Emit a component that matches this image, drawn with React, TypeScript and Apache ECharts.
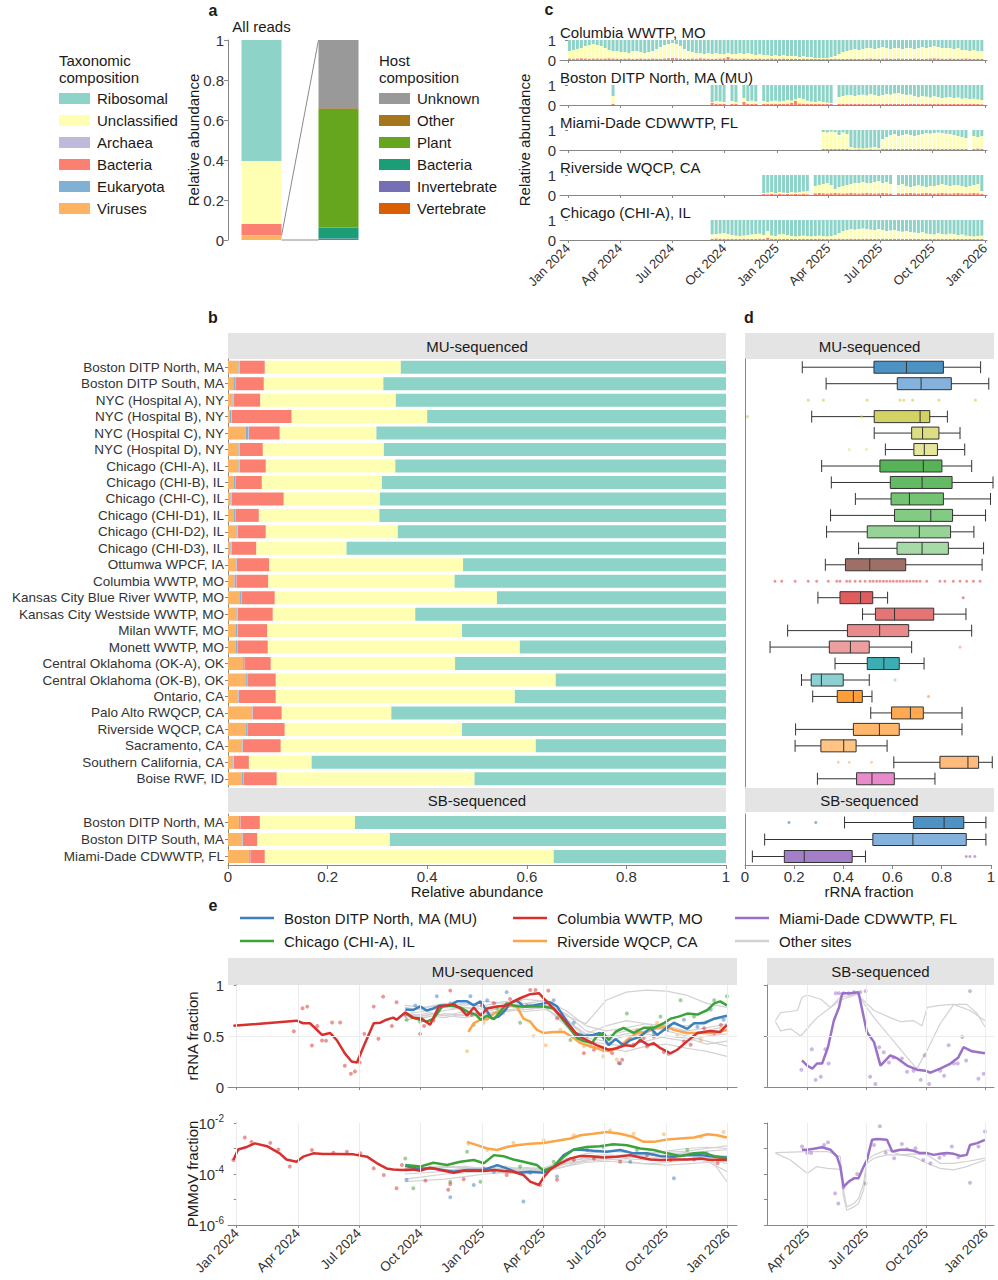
import React, { useEffect, useRef } from 'react';
import * as echarts from 'echarts';

const FONT = '"Liberation Sans", Arial, Helvetica, sans-serif';
const DAY_MS = 86400000;
const T0 = Date.UTC(2024, 0, 1);
const t = (d: number) => T0 + d * DAY_MS;
const MONTHS = ['Jan', 'Feb', 'Mar', 'Apr', 'May', 'Jun', 'Jul', 'Aug', 'Sep', 'Oct', 'Nov', 'Dec'];
// x values on the time panels are days since 1 Jan 2024
const fmtDay = (d: number) => { const dt = new Date(T0 + Math.round(d) * DAY_MS); return MONTHS[dt.getUTCMonth()] + ' ' + dt.getUTCFullYear(); };

// ---------- tick positions (days since 1 Jan 2024) ----------
const quarterDays = [0, 91, 182, 274, 366, 456, 547, 639, 731];
const sbQuarterDays = [456, 547, 639, 731];

// ---------- colours ----------
const TAX_COLORS: Record<string, string> = {
  Ribosomal: '#8DD3C7', Unclassified: '#FFFFB3', Archaea: '#BEBADA', Bacteria: '#FB8072', Eukaryota: '#80B1D3', Viruses: '#FDB462',
};
const HOST_COLORS: Record<string, string> = {
  Unknown: '#999999', Other: '#A6761D', Plant: '#66A61E', Bacteria: '#1B9E77', Invertebrate: '#7570B3', Vertebrate: '#D95F02',
};
const C_BOS = '#3a7fc0', C_COL = '#d7302e', C_CHI = '#3ba33a', C_RIV = '#fba548', C_MIA = '#9b70c8', C_OTHER = '#d2d2d2';

// ---------- panel a ----------
const compCategories = ['All reads', 'Viral reads'];
const taxNames = ['Viruses', 'Eukaryota', 'Archaea', 'Bacteria', 'Unclassified', 'Ribosomal'];
const allReadsTax = [0.021, 0.002, 0.001, 0.056, 0.315, 0.605];
const hostNames = ['Vertebrate', 'Invertebrate', 'Bacteria', 'Plant', 'Other', 'Unknown'];
const viralReadsHost = [0.005, 0.002, 0.056, 0.592, 0.004, 0.341];
const taxLegend = ['Ribosomal', 'Unclassified', 'Archaea', 'Bacteria', 'Eukaryota', 'Viruses'];
const hostLegend = ['Unknown', 'Other', 'Plant', 'Bacteria', 'Invertebrate', 'Vertebrate'];

// ---------- panel b ----------
const sitesMU = ['Boston DITP North, MA', 'Boston DITP South, MA', 'NYC (Hospital A), NY', 'NYC (Hospital B), NY', 'NYC (Hospital C), NY', 'NYC (Hospital D), NY', 'Chicago (CHI-A), IL', 'Chicago (CHI-B), IL', 'Chicago (CHI-C), IL', 'Chicago (CHI-D1), IL', 'Chicago (CHI-D2), IL', 'Chicago (CHI-D3), IL', 'Ottumwa WPCF, IA', 'Columbia WWTP, MO', 'Kansas City Blue River WWTP, MO', 'Kansas City Westside WWTP, MO', 'Milan WWTF, MO', 'Monett WWTP, MO', 'Central Oklahoma (OK-A), OK', 'Central Oklahoma (OK-B), OK', 'Ontario, CA', 'Palo Alto RWQCP, CA', 'Riverside WQCP, CA', 'Sacramento, CA', 'Southern California, CA', 'Boise RWF, ID'];
const sitesSB = ['Boston DITP North, MA', 'Boston DITP South, MA', 'Miami-Dade CDWWTP, FL'];

const muViruses = [0.021, 0.012, 0.009, 0.003, 0.036, 0.021, 0.021, 0.012, 0.005, 0.012, 0.017, 0.005, 0.015, 0.013, 0.024, 0.017, 0.015, 0.016, 0.030, 0.036, 0.019, 0.047, 0.036, 0.027, 0.009, 0.028];
const muEukaryota = [0.002, 0.002, 0.002, 0.004, 0.005, 0.002, 0.002, 0.002, 0.002, 0.002, 0.002, 0.002, 0.002, 0.003, 0.002, 0.002, 0.004, 0.002, 0.002, 0.002, 0.002, 0.002, 0.002, 0.002, 0.002, 0.002];
const muArchaea = [0.001, 0.001, 0.001, 0.001, 0.001, 0.001, 0.001, 0.001, 0.001, 0.001, 0.001, 0.001, 0.001, 0.001, 0.001, 0.001, 0.001, 0.001, 0.001, 0.001, 0.001, 0.001, 0.001, 0.001, 0.001, 0.001];
const muBacteria = [0.050, 0.057, 0.053, 0.120, 0.062, 0.046, 0.052, 0.053, 0.104, 0.047, 0.056, 0.049, 0.065, 0.064, 0.067, 0.070, 0.059, 0.061, 0.053, 0.057, 0.074, 0.058, 0.075, 0.076, 0.030, 0.067];
const muUnclassified = [0.273, 0.240, 0.272, 0.272, 0.194, 0.243, 0.260, 0.241, 0.193, 0.242, 0.265, 0.181, 0.389, 0.374, 0.446, 0.286, 0.391, 0.506, 0.370, 0.562, 0.480, 0.220, 0.356, 0.512, 0.126, 0.397];
const muRibosomal = [0.653, 0.688, 0.663, 0.600, 0.702, 0.687, 0.664, 0.691, 0.695, 0.696, 0.659, 0.762, 0.528, 0.545, 0.460, 0.624, 0.530, 0.414, 0.544, 0.342, 0.424, 0.672, 0.530, 0.382, 0.832, 0.505];
const sbViruses = [0.022, 0.027, 0.042];
const sbEukaryota = [0.002, 0.002, 0.002];
const sbArchaea = [0.001, 0.001, 0.001];
const sbBacteria = [0.039, 0.029, 0.029];
const sbUnclassified = [0.191, 0.266, 0.580];
const sbRibosomal = [0.745, 0.675, 0.346];

// ---------- panel d (rRNA fraction box plots) ----------
const muMin = [0.231, 0.327, null, 0.269, 0.521, 0.566, 0.309, 0.348, 0.445, 0.345, 0.329, 0.458, 0.324, null, 0.294, 0.474, 0.172, 0.101, 0.363, 0.228, 0.273, 0.507, 0.204, 0.202, 0.600, 0.292];
const muQ1 = [0.520, 0.614, null, 0.521, 0.672, 0.681, 0.544, 0.586, 0.589, 0.603, 0.493, 0.613, 0.405, null, 0.383, 0.526, 0.413, 0.340, 0.493, 0.267, 0.372, 0.591, 0.437, 0.306, 0.786, 0.450];
const muMed = [0.651, 0.710, null, 0.706, 0.716, 0.723, 0.719, 0.714, 0.663, 0.749, 0.703, 0.714, 0.503, null, 0.466, 0.603, 0.543, 0.425, 0.560, 0.308, 0.437, 0.667, 0.542, 0.398, 0.899, 0.512];
const muQ3 = [0.800, 0.832, null, 0.745, 0.782, 0.776, 0.794, 0.835, 0.800, 0.837, 0.829, 0.820, 0.648, null, 0.515, 0.761, 0.660, 0.501, 0.622, 0.396, 0.473, 0.719, 0.622, 0.448, 0.942, 0.602];
const muMax = [0.950, 0.983, null, 0.816, 0.867, 0.886, 0.914, 1.000, 0.990, 0.970, 0.923, 0.962, 0.956, null, 0.575, 0.891, 0.914, 0.672, 0.722, 0.501, 0.512, 0.875, 0.875, 0.573, 0.997, 0.766];
const sbMin = [0.405, 0.080, 0.030];
const sbQ1 = [0.685, 0.520, 0.160];
const sbMed = [0.810, 0.683, 0.241];
const sbQ3 = [0.890, 0.900, 0.436];
const sbMax = [0.980, 0.980, 0.490];
const nycAPoints = [0.255, 0.316, 0.493, 0.625, 0.640, 0.676, 0.782, 0.929];
const columbiaPoints = [0.121, 0.148, 0.202, 0.255, 0.289, 0.336, 0.370, 0.383, 0.410, 0.423, 0.444, 0.464, 0.484, 0.504, 0.517, 0.531, 0.544, 0.558, 0.571, 0.585, 0.598, 0.612, 0.625, 0.638, 0.652, 0.665, 0.679, 0.692, 0.706, 0.733, 0.786, 0.806, 0.840, 0.867, 0.894, 0.921, 0.948];
const muExtraPoints: [number, number[]][] = [[3, [0.010, 0.470]], [5, [0.420, 0.490]], [14, [0.880]], [17, [0.867]], [19, [0.605]], [20, [0.740]], [24, [0.376, 0.420, 0.510]]];
const sbExtraPoints: [number, number[]][] = [[0, [0.179, 0.288]], [2, [0.900, 0.915, 0.935]]];
const dColorsMU = ['rgba(31,119,180,0.8)', 'rgba(110,165,215,0.85)', 'rgba(200,200,60,0.8)', 'rgba(200,200,60,0.8)', 'rgba(212,212,100,0.8)', 'rgba(222,222,130,0.8)', 'rgba(44,160,44,0.8)', 'rgba(60,170,60,0.8)', 'rgba(80,180,80,0.8)', 'rgba(100,190,100,0.8)', 'rgba(125,200,125,0.8)', 'rgba(150,212,150,0.85)', 'rgba(140,86,75,0.85)', 'rgba(214,39,40,0.7)', 'rgba(214,39,40,0.75)', 'rgba(220,70,70,0.75)', 'rgba(226,100,100,0.75)', 'rgba(232,135,135,0.8)', 'rgba(23,160,165,0.85)', 'rgba(120,200,205,0.85)', 'rgba(255,140,20,0.85)', 'rgba(255,155,50,0.85)', 'rgba(255,165,70,0.8)', 'rgba(255,180,100,0.8)', 'rgba(255,170,90,0.8)', 'rgba(227,119,194,0.85)'];
const dColorsSB = ['rgba(31,119,180,0.8)', 'rgba(110,165,215,0.85)', 'rgba(148,103,189,0.85)'];

// ---------- panel c (weekly composition, %; week 0 = 1 Jan 2024) ----------
const columbiaStart = 0;
const columbiaRrna = [
  55, 50, 45, 40, 30, 25, 20, 25, 30, 40,
  50, 55, 55, 60, 60, 65, 55, 55, 60, 65,
  60, 55, 45, 35, 25, 20, 15, 20, 30, 45,
  55, 60, 65, 65, 70, 65, 70, 65, 70, 70,
  65, 70, 70, 65, 70, 65, 70, 75, 70, 75,
  75, 80, 75, 80, 75, 80, 80, 80, 85, 80,
  85, 85, 90, 90, 90, 90, 85, 80, 70, 60,
  55, 50, 45, 50, 45, 40, 40, 45, 40, 35,
  40, 45, 40, 40, 45, 40, 40, 45, 40, 35,
  40, 35, 30, 35, 40, 40, 40, 45, 40, 50,
  50, 55, 50, 55, 55];
const columbiaBact = [
  8, 7, 8, 9, 8, 7, 8, 8, 7, 8,
  9, 8, 7, 6, 7, 8, 6, 7, 8, 6,
  7, 8, 7, 6, 8, 9, 10, 9, 8, 7,
  6, 8, 7, 9, 8, 7, 6, 7, 8, 9,
  15, 8, 7, 6, 8, 7, 6, 7, 8, 6,
  7, 8, 6, 7, 8, 6, 7, 5, 6, 7,
  6, 5, 6, 5, 6, 5, 6, 7, 6, 5,
  6, 7, 6, 5, 6, 7, 8, 7, 6, 7,
  8, 7, 6, 8, 7, 6, 7, 8, 7, 6,
  7, 8, 9, 8, 7, 6, 8, 7, 6, 7,
  8, 7, 6, 7, 6];
const bostonStart = 11;
const bostonRrna = [55, ...Array(24).fill(null), 85, 80, 82, 85, null, 80, 85, null, 65, 80, 78, 82, null,
  80, 85, 80, 78, 82, 80, 75, 78, 72, 65, 70, 78, 82, 85, 80, 85, 88, 90, null,
  60, 55, 50, 50, 55, 50, 48, 52, 45, 50, 55, 50, 45, 48, 42, 40, 45, 50, 48, 55,
  60, 55, 58, 62, 55, 60, 65, 62, 60, 65, 62, 68, 65, 70, 68, 72, 75];
const bostonBact = [6, ...Array(24).fill(null), 12, 6, 5, 6, null, 6, 7, null, 15, 6, 5, 6, null,
  5, 6, 5, 6, 5, 6, 5, 12, 20, 8, 6, 5, 5, 6, 5, 6, 5, 5, null,
  5, 6, 5, 6, 5, 6, 5, 6, 5, 6, 6, 5, 6, 5, 6, 5, 6, 5, 6, 5,
  6, 5, 5, 6, 5, 6, 5, 6, 5, 6, 5, 6, 5, 6, 5, 5, 4];
const miamiStart = 64;
const miamiRrna = [10, 12, 8, 10, 25, 12, 20, 85, 90, 90, 92, 90, 88, 85, 90,
  45, 35, 25, 20, 30, 25, 20, 25, 30, 25, 20, 15, 18, 15, 12, 15, 18, 20, 25, 30, 35, 40, null, 30, 35, 30];
const miamiBact = [5, 6, 5, 6, 5, 6, 5, 3, 3, 4, 3, 3, 4, 3, 3,
  6, 5, 6, 5, 6, 5, 6, 5, 6, 5, 6, 5, 6, 5, 6, 5, 6, 5, 6, 5, 6, 5, null, 6, 8, 6];
const riversideStart = 49;
const riversideRrna = [90, 88, 85, 90, 85, 88, 90, 85, 88, 85, 82, 80, null,
  55, 50, 45, 40, 50, 70, 60, 55, 50, 45, 40, 40, 35, 40, 40, 35, 30, 40, 35, 45, null,
  50, 45, 55, 60, 55, 50, 55, 60, 55, 55, 50, 45, 50, 55, 50, 50, 55, 60, 55, 50, 45, 80];
const riversideBact = [5, 4, 5, 4, 5, 4, 5, 4, 5, 4, 5, 4, null,
  9, 10, 9, 8, 9, 10, 9, 8, 9, 10, 9, 8, 9, 10, 9, 8, 9, 10, 9, 8, null,
  9, 8, 9, 10, 9, 8, 9, 10, 9, 8, 9, 10, 9, 8, 9, 10, 9, 8, 9, 10, 9, 5];
const chicagoStart = 36;
const chicagoRrna = [72, 70, 68, 65, 70, 75, 78, 80, 78, 75, 72, 70, 68, 75, 55, 78, 80,
  72, 70, 75, 80, 82, 80, 78, 80, 82, 80, 78, 80, 82, 80, 75, 65, 55,
  50, 45, 48, 45, 42, 45, 48, 50, 45, 50, 55, 52, 50, 55, 58, 55, 60,
  62, 65, 60, 68, 70, 72, 65, 70, 72, 68, 70, 75, 72, 78, 80, 82, 80, 78];
const chicagoBact = [6, 8, 7, 6, 5, 6, 5, 6, 7, 6, 5, 6, 7, 6, 12, 6, 5,
  6, 5, 6, 5, 6, 5, 6, 5, 6, 5, 6, 5, 6, 5, 6, 7, 6,
  6, 7, 6, 5, 6, 7, 6, 5, 6, 7, 6, 5, 6, 7, 6, 5, 6,
  6, 5, 6, 5, 6, 5, 6, 5, 6, 5, 6, 5, 6, 5, 6, 5, 6, 5];

// ---------- panel e (days since 1 Jan 2024; rRNA fraction / log10 PMMoV fraction) ----------
const colRrnaLine = [[-5, 0.60], [89, 0.65], [99, 0.625], [109, 0.625], [117, 0.576], [127, 0.51], [139, 0.53], [149, 0.46], [161, 0.33], [171, 0.25], [179, 0.24], [189, 0.40], [204, 0.625], [214, 0.63], [223, 0.66], [233, 0.68], [238, 0.66], [251, 0.73], [263, 0.68], [276, 0.67], [288, 0.61], [301, 0.79], [323, 0.81], [333, 0.77], [343, 0.70], [353, 0.78], [363, 0.70], [373, 0.77], [388, 0.79], [402, 0.80], [412, 0.84], [422, 0.87], [437, 0.91], [450, 0.92], [457, 0.87], [467, 0.80], [482, 0.70], [497, 0.59], [509, 0.50], [521, 0.46], [536, 0.41], [554, 0.365], [566, 0.38], [579, 0.41], [591, 0.40], [601, 0.46], [613, 0.41], [621, 0.43], [631, 0.38], [646, 0.33], [656, 0.365], [671, 0.45], [686, 0.53], [705, 0.55], [720, 0.54], [730, 0.61]];
const bosRrnaLine = [[251, 0.76], [263, 0.755], [273, 0.79], [283, 0.75], [293, 0.77], [303, 0.80], [318, 0.80], [328, 0.84], [343, 0.84], [353, 0.80], [363, 0.84], [373, 0.74], [380, 0.67], [390, 0.69], [400, 0.755], [407, 0.82], [417, 0.85], [427, 0.79], [442, 0.80], [457, 0.82], [467, 0.83], [477, 0.79], [492, 0.64], [504, 0.53], [517, 0.50], [531, 0.51], [541, 0.53], [554, 0.41], [564, 0.47], [576, 0.41], [586, 0.46], [601, 0.495], [616, 0.58], [626, 0.51], [636, 0.56], [651, 0.63], [661, 0.60], [671, 0.57], [681, 0.625], [696, 0.625], [711, 0.67], [730, 0.70]];
const chiRrnaLine = [[251, 0.73], [261, 0.68], [273, 0.66], [283, 0.64], [293, 0.67], [306, 0.79], [318, 0.80], [333, 0.78], [346, 0.73], [356, 0.71], [363, 0.66], [373, 0.70], [383, 0.665], [390, 0.72], [402, 0.82], [412, 0.80], [422, 0.79], [442, 0.79], [457, 0.79], [472, 0.77], [482, 0.69], [494, 0.59], [507, 0.48], [517, 0.45], [529, 0.43], [536, 0.495], [546, 0.53], [554, 0.46], [564, 0.54], [576, 0.58], [591, 0.53], [606, 0.58], [621, 0.58], [636, 0.625], [646, 0.67], [658, 0.69], [671, 0.72], [686, 0.71], [701, 0.755], [711, 0.82], [720, 0.84], [730, 0.80]];
const rivRrnaLine = [[345, 0.54], [353, 0.625], [363, 0.66], [373, 0.665], [383, 0.72], [395, 0.755], [407, 0.80], [417, 0.79], [427, 0.67], [437, 0.64], [447, 0.56], [457, 0.53], [472, 0.54], [487, 0.54], [502, 0.48], [512, 0.43], [527, 0.40], [541, 0.37], [556, 0.35], [571, 0.40], [581, 0.46], [596, 0.53], [611, 0.54], [626, 0.58], [641, 0.59], [651, 0.56], [671, 0.53], [691, 0.53], [706, 0.53], [720, 0.54], [730, 0.56]];
const colRrnaDots = [[85, 0.547], [98, 0.772], [105, 0.788], [112, 0.407], [120, 0.599], [127, 0.456], [133, 0.453], [142, 0.632], [154, 0.632], [161, 0.208], [170, 0.130], [176, 0.153], [183, 0.241], [190, 0.521], [204, 0.788], [211, 0.472], [218, 0.886], [231, 0.599], [238, 0.831], [251, 0.707], [273, 0.521], [279, 0.599], [293, 0.651], [318, 0.945], [350, 0.707], [365, 0.798], [383, 0.821], [407, 0.863], [437, 0.951], [445, 0.951], [464, 0.945], [477, 0.674], [517, 0.332], [532, 0.365], [559, 0.332], [569, 0.235], [574, 0.267], [591, 0.414], [606, 0.479], [611, 0.397], [621, 0.495], [636, 0.342], [643, 0.326], [666, 0.446], [676, 0.414], [696, 0.577], [711, 0.528], [721, 0.609]];
const bosRrnaDots = [[266, 0.80], [298, 0.89], [318, 0.82], [348, 0.89], [373, 0.85], [402, 0.93], [432, 0.80], [472, 0.85], [502, 0.63], [522, 0.50], [546, 0.36], [571, 0.23], [601, 0.45], [621, 0.53], [641, 0.56], [666, 0.66], [686, 0.59], [706, 0.76], [725, 0.66]];
const chiRrnaDots = [[253, 0.66], [273, 0.64], [323, 0.82], [353, 0.61], [388, 0.77], [422, 0.63], [462, 0.84], [497, 0.46], [527, 0.40], [556, 0.43], [581, 0.72], [601, 0.46], [631, 0.69], [661, 0.85], [681, 0.69], [711, 0.85], [730, 0.89]];
const rivRrnaDots = [[343, 0.35], [368, 0.63], [397, 0.72], [422, 0.85], [442, 0.50], [460, 0.41], [482, 0.56], [517, 0.40], [546, 0.30], [566, 0.27], [596, 0.56], [626, 0.63], [656, 0.50], [691, 0.46], [721, 0.56]];

const colPmLine = [[-5, -3.45], [2, -3.04], [15, -2.94], [27, -2.8], [45, -2.91], [64, -3.19], [74, -3.43], [89, -3.52], [99, -3.32], [114, -3.19], [129, -3.22], [149, -3.22], [174, -3.23], [194, -3.32], [209, -3.58], [223, -3.78], [233, -3.82], [246, -3.84], [263, -3.82], [273, -3.87], [288, -3.75], [303, -3.84], [323, -3.95], [338, -3.87], [353, -3.87], [368, -3.88], [383, -3.84], [397, -3.88], [412, -3.91], [427, -4.04], [437, -4.3], [450, -4.43], [457, -4.13], [467, -3.82], [482, -3.58], [497, -3.39], [512, -3.29], [527, -3.30], [546, -3.35], [566, -3.32], [586, -3.26], [601, -3.35], [616, -3.43], [631, -3.45], [651, -3.43], [671, -3.43], [691, -3.39], [705, -3.45], [720, -3.43], [730, -3.45]];
const bosPmLine = [[251, -3.69], [268, -3.78], [293, -3.78], [323, -3.91], [343, -3.84], [368, -3.84], [388, -3.65], [402, -3.78], [417, -3.95], [437, -3.91], [457, -3.95], [472, -3.71], [487, -3.26], [502, -3.04], [517, -3.06], [531, -3.09], [551, -3.13], [571, -3.06], [591, -3.19], [611, -3.19], [631, -3.30], [651, -3.32], [671, -3.26], [691, -3.26], [711, -3.32], [730, -3.35]];
const chiPmLine = [[251, -3.65], [273, -3.71], [293, -3.56], [313, -3.65], [333, -3.52], [353, -3.45], [368, -3.58], [383, -3.26], [397, -3.30], [412, -3.43], [427, -3.52], [447, -3.65], [457, -3.87], [472, -3.71], [487, -3.32], [502, -3.04], [521, -2.94], [541, -2.91], [561, -2.83], [581, -2.87], [601, -3.0], [621, -3.06], [641, -3.19], [661, -3.30], [681, -3.19], [696, -3.17], [711, -3.30], [730, -3.39]];
const rivPmLine = [[343, -2.74], [358, -2.87], [373, -3.0], [388, -3.06], [402, -2.94], [417, -2.87], [437, -2.81], [457, -2.78], [477, -2.70], [497, -2.61], [512, -2.48], [531, -2.42], [551, -2.35], [571, -2.42], [591, -2.55], [606, -2.74], [621, -2.74], [641, -2.65], [661, -2.61], [681, -2.57], [701, -2.44], [715, -2.48], [730, -2.57]];
const colPmDots = [[-5, -3.45], [12, -2.57], [22, -2.74], [50, -2.78], [62, -3.04], [79, -3.71], [112, -3.06], [144, -3.17], [164, -3.13], [184, -3.19], [204, -3.78], [219, -4.04], [238, -4.56], [246, -3.65], [281, -4.26], [315, -4.62], [318, -4.39], [338, -4.21], [368, -3.78], [402, -4.04], [437, -3.95], [452, -4.43], [477, -4.23], [502, -3.45], [532, -3.39], [571, -3.52], [611, -3.26], [646, -3.45], [681, -3.43], [716, -3.58]];
const bosPmDots = [[253, -4.23], [318, -4.91], [353, -4.43], [383, -3.91], [427, -5.08], [477, -4.1], [522, -3.06], [586, -3.52], [651, -4.17], [700, -3.19]];
const chiPmDots = [[251, -3.39], [263, -4.56], [318, -4.3], [343, -3.13], [363, -4.3], [422, -3.71], [472, -3.52], [546, -2.94], [596, -3.06], [671, -3.06]];
const rivPmDots = [[345, -2.81], [373, -3.06], [412, -2.78], [457, -2.68], [502, -2.48], [556, -2.29], [591, -2.42], [636, -2.44], [691, -2.55], [725, -2.35]];

const otherDays = [250, 280, 310, 340, 370, 400, 430, 460, 490, 520, 550, 580, 610, 640, 670, 700, 730];
const otherRrna = [
  [0.80, 0.78, 0.82, 0.80, 0.84, 0.82, 0.86, 0.84, 0.70, 0.62, 0.85, 0.93, 0.95, 0.94, 0.90, 0.82, 0.78],
  [0.72, 0.70, 0.75, 0.78, 0.76, 0.80, 0.82, 0.85, 0.75, 0.60, 0.55, 0.58, 0.62, 0.60, 0.55, 0.58, 0.62],
  [0.68, 0.72, 0.70, 0.74, 0.72, 0.75, 0.78, 0.80, 0.68, 0.48, 0.45, 0.50, 0.52, 0.48, 0.45, 0.50, 0.52],
  [0.75, 0.78, 0.80, 0.82, 0.78, 0.80, 0.76, 0.78, 0.62, 0.45, 0.42, 0.40, 0.45, 0.50, 0.48, 0.42, 0.45],
  [0.70, 0.68, 0.72, 0.70, 0.74, 0.78, 0.80, 0.82, 0.65, 0.50, 0.48, 0.52, 0.55, 0.58, 0.52, 0.55, 0.60],
  [0.65, 0.70, 0.68, 0.72, 0.70, 0.74, 0.76, 0.78, 0.60, 0.40, 0.38, 0.35, 0.40, 0.42, 0.38, 0.35, 0.30],
  [0.78, 0.75, 0.78, 0.76, 0.80, 0.84, 0.82, 0.80, 0.72, 0.55, 0.50, 0.55, 0.58, 0.62, 0.60, 0.65, 0.68],
  [0.72, 0.74, 0.70, 0.68, 0.72, 0.76, 0.74, 0.76, 0.66, 0.52, 0.60, 0.65, 0.62, 0.55, 0.50, 0.45, 0.40],
];
const otherPmmov = [
  [-3.9, -3.8, -3.85, -3.8, -3.75, -3.8, -3.9, -3.85, -3.5, -3.2, -3.1, -3.15, -3.2, -3.1, -3.0, -2.95, -3.0],
  [-3.8, -3.75, -3.7, -3.75, -3.8, -3.85, -3.8, -3.75, -3.4, -3.3, -3.25, -3.3, -3.4, -3.3, -3.2, -3.1, -3.05],
  [-4.2, -4.1, -4.0, -3.95, -3.9, -3.95, -4.0, -3.9, -3.6, -3.45, -3.4, -3.5, -3.6, -3.55, -3.45, -3.5, -3.9],
  [-3.85, -3.8, -3.75, -3.7, -3.8, -3.85, -3.9, -3.95, -3.55, -3.35, -3.3, -3.35, -3.3, -3.25, -3.15, -3.2, -4.3],
  [-4.0, -3.95, -3.9, -3.85, -3.9, -3.8, -3.75, -3.8, -3.6, -3.5, -3.45, -3.4, -3.45, -3.5, -3.4, -3.35, -3.6],
  [null, null, null, -3.9, -3.85, -3.8, -3.75, -3.9, -3.7, -3.45, -3.3, -3.25, -3.2, -3.15, -3.1, -3.0, -2.9],
  [-4.3, -4.25, -4.2, -4.1, -4.0, -3.95, -4.0, -3.9, -3.7, -3.55, -3.5, -3.55, -3.6, -3.65, -3.6, -3.55, -3.5],
  [-3.7, -3.75, -3.7, -3.8, -3.75, -3.7, -3.85, -3.8, -3.5, -3.4, -3.35, -3.3, -3.25, -3.3, -3.2, -3.25, -3.3],
];

const miaRrnaLine = [[448, 0.26], [456, 0.21], [464, 0.18], [471, 0.23], [479, 0.23], [488, 0.39], [497, 0.65], [505, 0.78], [510, 0.92], [523, 0.92], [535, 0.93], [548, 0.54], [559, 0.44], [569, 0.21], [584, 0.31], [595, 0.28], [610, 0.21], [625, 0.17], [638, 0.16], [646, 0.14], [661, 0.18], [677, 0.23], [689, 0.29], [697, 0.39], [710, 0.35], [730, 0.33]];
const miaRrnaDots = [[447, 0.17], [463, 0.37], [469, 0.07], [477, 0.10], [484, 0.37], [489, 0.23], [500, 0.92], [505, 0.92], [512, 0.92], [520, 0.92], [528, 0.93], [538, 0.93], [546, 0.94], [553, 0.10], [561, 0.03], [567, 0.39], [574, 0.34], [582, 0.24], [589, 0.29], [602, 0.28], [610, 0.15], [620, 0.16], [631, 0.07], [637, 0.31], [644, 0.03], [661, 0.16], [667, 0.11], [674, 0.41], [682, 0.23], [688, 0.23], [695, 0.49], [701, 0.26], [707, 0.94], [720, 0.08], [728, 0.13]];
const sbOtherRrnaA = [[407, 0.65], [415, 0.73], [441, 0.75], [448, 0.88], [456, 0.90], [477, 0.86], [492, 0.78], [507, 0.85], [533, 0.91], [559, 0.75], [584, 0.68], [600, 0.64], [620, 0.65], [633, 0.60], [641, 0.78], [661, 0.80], [682, 0.81], [707, 0.75], [730, 0.65]];
const sbOtherRrnaB = [[407, 0.64], [415, 0.55], [430, 0.57], [446, 0.50], [471, 0.68], [492, 0.78], [507, 0.88], [533, 0.91], [559, 0.68], [584, 0.49], [610, 0.29], [625, 0.18], [641, 0.36], [661, 0.62], [682, 0.81], [702, 0.81], [718, 0.72], [730, 0.59]];
const miaPmLine = [[448, -3.05], [456, -3.05], [466, -3.01], [479, -2.95], [492, -3.05], [502, -3.32], [507, -3.71], [512, -4.5], [520, -4.3], [528, -4.17], [535, -4.17], [543, -3.71], [548, -3.45], [556, -2.66], [564, -2.63], [579, -2.66], [587, -3.12], [600, -3.05], [610, -3.05], [620, -3.09], [630, -3.18], [641, -3.18], [651, -3.25], [661, -3.21], [671, -3.18], [682, -3.21], [692, -3.29], [702, -3.25], [707, -2.86], [718, -2.79], [730, -2.66]];
const miaPmDots = [[448, -2.92], [456, -3.18], [462, -3.18], [482, -2.86], [488, -2.76], [499, -4.76], [504, -5.16], [512, -4.53], [533, -4.0], [546, -4.37], [559, -2.86], [568, -2.13], [577, -3.16], [590, -3.38], [602, -2.82], [610, -3.03], [623, -2.99], [635, -3.45], [646, -3.58], [660, -3.36], [667, -3.25], [679, -2.92], [689, -3.34], [707, -4.34], [720, -2.92], [730, -2.33]];
const sbOtherPmA = [[407, -3.16], [456, -3.12], [487, -3.12], [507, -3.32], [512, -4.63], [517, -5.29], [528, -5.16], [535, -4.96], [543, -4.37], [548, -3.45], [559, -3.25], [579, -3.05], [600, -3.25], [620, -3.21], [641, -3.25], [661, -3.58], [682, -3.58], [702, -3.51], [730, -3.38]];
const sbOtherPmB = [[407, -3.18], [430, -3.45], [456, -3.97], [471, -3.71], [487, -3.78], [507, -3.82], [512, -4.89], [517, -5.42], [528, -5.29], [535, -5.16], [543, -4.63], [548, -3.58], [559, -3.38], [579, -3.25], [600, -3.25], [620, -3.32], [641, -3.58], [661, -3.78], [682, -3.84], [702, -3.71], [730, -3.45]];

// ---------- helpers ----------
const tickLbl = { color: '#333', fontFamily: FONT };
const axLine = { show: true, lineStyle: { color: '#888', width: 1 } };
const axTick = { show: true, length: 3, lineStyle: { color: '#888' } };

function text(x: number, y: number, s: string, size: number, extra: any = {}) {
  const align = extra.align || 'left';
  return {
    type: 'text', x, y, silent: true, rotation: extra.rotation || 0,
    style: {
      text: s, fontSize: size, fontFamily: FONT, fontWeight: extra.bold ? 'bold' : 'normal', fill: extra.fill || '#1a1a1a',
      align, verticalAlign: 'middle', textAlign: align, textVerticalAlign: 'middle',
    },
  };
}
function rect(x: number, y: number, w: number, h: number, fill: string) {
  return { type: 'rect', silent: true, shape: { x, y, width: w, height: h }, style: { fill } };
}
function strip(x: number, y: number, w: number, h: number, s: string) {
  return [rect(x, y, w, h, '#e4e4e4'), text(x + w / 2, y + h / 2, s, 15, { align: 'center' })];
}

function buildOption() {
  const grid: any[] = [];
  const xAxis: any[] = [];
  const yAxis: any[] = [];
  const series: any[] = [];
  const G = (o: any) => grid.push({ containLabel: false, ...o }) - 1;
  const X = (o: any) => xAxis.push(o) - 1;
  const Y = (o: any) => yAxis.push(o) - 1;

  // ===== panel a =====
  const ga = G({ left: 223, top: 40, width: 154, height: 200 });
  const xa = X({ type: 'category', gridIndex: ga, data: compCategories, position: 'top', axisLine: { show: false }, axisTick: { show: false }, axisLabel: { ...tickLbl, color: '#1a1a1a', fontSize: 15, margin: 6 } });
  const ya = Y({ type: 'value', gridIndex: ga, min: 0, max: 1, interval: 0.2, offset: -5, axisLine: axLine, axisTick: { ...axTick, length: 4 }, axisLabel: { ...tickLbl, fontSize: 15, margin: 4 }, splitLine: { show: false } });
  taxNames.forEach((n, i) => series.push({ type: 'bar', name: n, xAxisIndex: xa, yAxisIndex: ya, stack: 'a', barWidth: 40, data: [allReadsTax[i], '-'], itemStyle: { color: TAX_COLORS[n] } }));
  hostNames.forEach((n, i) => series.push({ type: 'bar', name: 'Host ' + n, xAxisIndex: xa, yAxisIndex: ya, stack: 'a', barWidth: 40, data: ['-', viralReadsHost[i]], itemStyle: { color: HOST_COLORS[n] } }));
  series.push({
    type: 'custom', xAxisIndex: xa, yAxisIndex: ya, silent: true, data: [[0, allReadsTax[0]]],
    renderItem: (_p: any, api: any) => {
      const a = api.coord([0, api.value(1)]);
      const b = api.coord([1, 1]);
      const c = api.coord([0, 0]);
      const d = api.coord([1, 0]);
      const hw = 20;
      return {
        type: 'group', children: [
          { type: 'line', shape: { x1: a[0] + hw, y1: a[1], x2: b[0] - hw, y2: b[1] }, style: { stroke: '#8a8a8a', lineWidth: 1 } },
          { type: 'line', shape: { x1: c[0] + hw, y1: c[1], x2: d[0] - hw, y2: d[1] }, style: { stroke: '#8a8a8a', lineWidth: 1 } },
        ],
      };
    },
  });

  // ===== panel b =====
  const frac = (v: number) => String(Math.round(v * 10) / 10);
  const compSeries = (gi: number, cats: string[], vals: number[][], show: boolean) => {
    const xi = X({ type: 'value', gridIndex: gi, min: 0, max: 1, interval: 0.2, show, axisLine: axLine, axisTick: { ...axTick, length: 4 }, axisLabel: { ...tickLbl, fontSize: 15, margin: 4, formatter: frac }, splitLine: { show: false } });
    const yi = Y({ type: 'category', gridIndex: gi, data: cats, inverse: true, axisLine: axLine, axisTick: { ...axTick, alignWithLabel: true }, axisLabel: { ...tickLbl, fontSize: 13.5, interval: 0, margin: 4 } });
    taxNames.forEach((n, i) => series.push({ type: 'bar', xAxisIndex: xi, yAxisIndex: yi, stack: 'b' + gi, barWidth: 13, data: vals[i], itemStyle: { color: TAX_COLORS[n] } }));
  };
  compSeries(G({ left: 228, top: 359, width: 498, height: 428 }), sitesMU, [muViruses, muEukaryota, muArchaea, muBacteria, muUnclassified, muRibosomal], false);
  compSeries(G({ left: 228, top: 814, width: 498, height: 51 }), sitesSB, [sbViruses, sbEukaryota, sbArchaea, sbBacteria, sbUnclassified, sbRibosomal], true);

  // ===== panel d =====
  const boxSeries = (gi: number, cats: string[], mn: any[], q1: any[], md: any[], q3: any[], mx: any[], colors: string[], pts: [number, number[]][], showX: boolean) => {
    const xi = X({ type: 'value', gridIndex: gi, min: 0, max: 1, interval: 0.2, show: showX, axisLine: axLine, axisTick: { ...axTick, length: 4 }, axisLabel: { ...tickLbl, fontSize: 15, margin: 4, formatter: frac }, splitLine: { show: false } });
    const yi = Y({ type: 'category', gridIndex: gi, data: cats, inverse: true, axisLine: axLine, axisTick: { show: false }, axisLabel: { show: false } });
    series.push({
      type: 'boxplot', xAxisIndex: xi, yAxisIndex: yi, boxWidth: [12, 12],
      itemStyle: { borderColor: '#333', borderWidth: 1 },
      data: cats.map((_, i) => (mn[i] == null
        ? { value: ['-', '-', '-', '-', '-'] }
        : { value: [mn[i], q1[i], md[i], q3[i], mx[i]], itemStyle: { color: colors[i], borderColor: '#333', borderWidth: 1 } })),
    });
    const pdata: any[] = [];
    pts.forEach(([row, vs]) => vs.forEach((v) => pdata.push({ value: [v, row], itemStyle: { color: colors[row] } })));
    series.push({ type: 'scatter', xAxisIndex: xi, yAxisIndex: yi, symbolSize: 3, itemStyle: { opacity: 0.7 }, data: pdata, z: 3 });
  };
  boxSeries(G({ left: 745, top: 359, width: 248, height: 428 }), sitesMU, muMin, muQ1, muMed, muQ3, muMax, dColorsMU, [[2, nycAPoints], [13, columbiaPoints], ...muExtraPoints], false);
  boxSeries(G({ left: 745, top: 814, width: 248, height: 51 }), sitesSB, sbMin, sbQ1, sbMed, sbQ3, sbMax, dColorsSB, sbExtraPoints, true);

  // ===== panel c =====
  const cSites = [
    { title: 'Columbia WWTP, MO', start: columbiaStart, rrna: columbiaRrna, bact: columbiaBact },
    { title: 'Boston DITP North, MA (MU)', start: bostonStart, rrna: bostonRrna, bact: bostonBact },
    { title: 'Miami-Dade CDWWTP, FL', start: miamiStart, rrna: miamiRrna, bact: miamiBact },
    { title: 'Riverside WQCP, CA', start: riversideStart, rrna: riversideRrna, bact: riversideBact },
    { title: 'Chicago (CHI-A), IL', start: chicagoStart, rrna: chicagoRrna, bact: chicagoBact },
  ];
  // visible day axis with quarter ticks (labels formatted as dates)
  const dayX = (gi: number, minD: number, maxD: number, ticks: number[], labels: boolean, fs: number) => ({
    type: 'value', gridIndex: gi, position: 'bottom', min: minD, max: maxD, axisLine: axLine,
    axisTick: { ...axTick, customValues: ticks },
    axisLabel: labels ? { ...tickLbl, show: true, fontSize: fs, rotate: 45, margin: 6, customValues: ticks, formatter: fmtDay, hideOverlap: false } : { show: false },
    splitLine: { show: false },
  });
  cSites.forEach((s, k) => {
    const gi = G({ left: 560, top: 40 + 45 * k, width: 427, height: 20 });
    const last = k === cSites.length - 1;
    // hidden time axis carrying the stacked bars, aligned with the visible day axis
    const xTime = X({ type: 'time', gridIndex: gi, position: 'bottom', min: t(-14), max: t(734.5), show: false });
    X(dayX(gi, -14, 734.5, quarterDays, last, 13));
    const yi = Y({ type: 'value', gridIndex: gi, min: 0, max: 1, interval: 1, axisLine: { show: false }, axisTick: { ...axTick, length: 3 }, axisLabel: { ...tickLbl, fontSize: 15, margin: 4 }, splitLine: { show: false } });
    const xs = s.rrna.map((_: any, i: number) => t((s.start + i) * 7));
    const bact = s.rrna.map((r: any, i: number) => [xs[i], r == null ? '-' : s.bact[i] / 100]);
    const uncl = s.rrna.map((r: any, i: number) => [xs[i], r == null ? '-' : (100 - r - s.bact[i]) / 100]);
    const ribo = s.rrna.map((r: any, i: number) => [xs[i], r == null ? '-' : r / 100]);
    [[bact, TAX_COLORS.Bacteria], [uncl, TAX_COLORS.Unclassified], [ribo, TAX_COLORS.Ribosomal]].forEach(([d, col]: any) => {
      series.push({ type: 'bar', xAxisIndex: xTime, yAxisIndex: yi, stack: 'c' + k, barWidth: 3, data: d, itemStyle: { color: col } });
    });
  });

  // ===== panel e =====
  const toLog = (arr: number[][]) => arr.map(([d, v]) => [d, Math.pow(10, v)]);
  const linY = (gi: number, labels: boolean) => ({ type: 'value', gridIndex: gi, min: 0, max: 1, interval: 0.5, axisLine: axLine, axisTick: axTick, axisLabel: labels ? { ...tickLbl, fontSize: 15, margin: 4 } : { show: false }, splitLine: { show: false } });
  const logY = (gi: number, labels: boolean) => ({
    type: 'log', logBase: 10, gridIndex: gi, min: 1e-6, max: 1e-2, axisLine: axLine,
    axisTick: { ...axTick },
    axisLabel: labels ? {
      ...tickLbl, fontSize: 15, margin: 4,
      formatter: (v: number) => { const e = Math.round(Math.log10(v)); return e % 2 === 0 ? '10{sup|' + e + '}' : ''; },
      rich: { sup: { fontSize: 10, fontFamily: FONT, color: '#333', verticalAlign: 'bottom', padding: [0, 0, 9, 0] } },
    } : { show: false },
    splitLine: { show: false },
  });
  const gridLines = (ticks: number[], yv: number) => ({
    silent: true, symbol: ['none', 'none'], label: { show: false }, animation: false,
    lineStyle: { color: '#ececec', width: 1, type: 'solid' },
    data: [...ticks.map((d) => ({ xAxis: d })), { yAxis: yv }],
  });
  const line = (ax: number[], data: any[], color: string, width: number, z = 2, extra: any = {}) => ({ type: 'line', xAxisIndex: ax[0], yAxisIndex: ax[1], data, showSymbol: false, symbol: 'none', lineStyle: { color, width }, itemStyle: { color }, z, connectNulls: false, ...extra });
  const dots = (ax: number[], data: any[], color: string) => ({ type: 'scatter', xAxisIndex: ax[0], yAxisIndex: ax[1], data, symbolSize: 4, itemStyle: { color, opacity: 0.5 }, z: 3 });

  const g1 = G({ left: 228, top: 985, width: 509, height: 102 });
  const e1 = [X(dayX(g1, -13, 745, quarterDays, false, 13.5)), Y(linY(g1, true))];
  otherRrna.forEach((vals, i) => series.push(line(e1, otherDays.map((d, j) => [d, vals[j] == null ? '-' : vals[j]]), C_OTHER, 1.2, 2, i === 0 ? { markLine: gridLines(quarterDays, 0.5) } : {})));
  series.push(dots(e1, bosRrnaDots, C_BOS), dots(e1, chiRrnaDots, C_CHI), dots(e1, rivRrnaDots, C_RIV), dots(e1, colRrnaDots, C_COL));
  series.push(line(e1, rivRrnaLine, C_RIV, 2.5, 4), line(e1, bosRrnaLine, C_BOS, 2.5, 4), line(e1, chiRrnaLine, C_CHI, 2.5, 4), line(e1, colRrnaLine, C_COL, 2.5, 4));

  const g2 = G({ left: 228, top: 1123, width: 509, height: 102 });
  const e2 = [X(dayX(g2, -13, 745, quarterDays, true, 13.5)), Y(logY(g2, true))];
  otherPmmov.forEach((vals, i) => series.push(line(e2, otherDays.map((d, j) => [d, vals[j] == null ? '-' : Math.pow(10, vals[j] as number)]), C_OTHER, 1.2, 2, i === 0 ? { markLine: gridLines(quarterDays, 1e-4) } : {})));
  series.push(dots(e2, toLog(bosPmDots), C_BOS), dots(e2, toLog(chiPmDots), C_CHI), dots(e2, toLog(rivPmDots), C_RIV), dots(e2, toLog(colPmDots), C_COL));
  series.push(line(e2, toLog(rivPmLine), C_RIV, 2.5, 4), line(e2, toLog(bosPmLine), C_BOS, 2.5, 4), line(e2, toLog(chiPmLine), C_CHI, 2.5, 4), line(e2, toLog(colPmLine), C_COL, 2.5, 4));

  const g3 = G({ left: 767, top: 985, width: 227, height: 102 });
  const e3 = [X(dayX(g3, 394, 744, sbQuarterDays, false, 13.5)), Y(linY(g3, false))];
  series.push(line(e3, sbOtherRrnaA, C_OTHER, 1.2, 2, { markLine: gridLines(sbQuarterDays, 0.5) }), line(e3, sbOtherRrnaB, C_OTHER, 1.2));
  series.push(dots(e3, miaRrnaDots, C_MIA), line(e3, miaRrnaLine, C_MIA, 2.5, 4));

  const g4 = G({ left: 767, top: 1123, width: 227, height: 102 });
  const e4 = [X(dayX(g4, 394, 744, sbQuarterDays, true, 13.5)), Y(logY(g4, false))];
  series.push(line(e4, toLog(sbOtherPmA), C_OTHER, 1.2, 2, { markLine: gridLines(sbQuarterDays, 1e-4) }), line(e4, toLog(sbOtherPmB), C_OTHER, 1.2));
  series.push(dots(e4, toLog(miaPmDots), C_MIA), line(e4, toLog(miaPmLine), C_MIA, 2.5, 4));

  // ===== graphics: titles, legends, strips =====
  const els: any[] = [];
  els.push(text(213, 10, 'a', 16, { bold: true, align: 'center' }));
  els.push(text(193, 140, 'Relative abundance', 15, { align: 'center', rotation: Math.PI / 2 }));
  els.push(text(59, 60, 'Taxonomic', 15), text(59, 77, 'composition', 15));
  taxLegend.forEach((n, i) => { els.push(rect(59, 93 + 22 * i, 31, 11, TAX_COLORS[n]), text(97, 98.5 + 22 * i, n, 15)); });
  els.push(text(379, 60, 'Host', 15), text(379, 77, 'composition', 15));
  hostLegend.forEach((n, i) => { els.push(rect(379, 93 + 22 * i, 31, 11, HOST_COLORS[n]), text(417, 98.5 + 22 * i, n, 15)); });

  els.push(text(549, 9, 'c', 16, { bold: true, align: 'center' }));
  els.push(text(524, 140, 'Relative abundance', 15, { align: 'center', rotation: Math.PI / 2 }));
  cSites.forEach((s, k) => els.push(text(560, 32 + 45 * k, s.title, 15)));

  els.push(text(213, 317, 'b', 16, { bold: true, align: 'center' }));
  els.push(text(749, 317, 'd', 16, { bold: true, align: 'center' }));
  els.push(...strip(228, 333, 498, 26, 'MU-sequenced'), ...strip(228, 788, 498, 24, 'SB-sequenced'));
  els.push(...strip(745, 333, 249, 26, 'MU-sequenced'), ...strip(745, 788, 249, 24, 'SB-sequenced'));
  els.push(text(477, 891, 'Relative abundance', 15, { align: 'center' }), text(869, 891, 'rRNA fraction', 15, { align: 'center' }));

  els.push(text(213, 905, 'e', 16, { bold: true, align: 'center' }));
  const legE: [number, number, string, string][] = [[0, 0, 'Boston DITP North, MA (MU)', C_BOS], [1, 0, 'Columbia WWTP, MO', C_COL], [2, 0, 'Miami-Dade CDWWTP, FL', C_MIA], [0, 1, 'Chicago (CHI-A), IL', C_CHI], [1, 1, 'Riverside WQCP, CA', C_RIV], [2, 1, 'Other sites', C_OTHER]];
  const colX = [240, 513, 735];
  legE.forEach(([c, r, s, col]) => {
    const y = 918 + 23 * r;
    els.push({ type: 'line', silent: true, shape: { x1: colX[c], y1: y, x2: colX[c] + 34, y2: y }, style: { stroke: col, lineWidth: 2.5 } });
    els.push(text(colX[c] + 44, y, s, 15));
  });
  els.push(...strip(228, 958, 509, 27, 'MU-sequenced'), ...strip(767, 958, 227, 27, 'SB-sequenced'));
  els.push(text(192, 1036, 'rRNA fraction', 15, { align: 'center', rotation: Math.PI / 2 }));
  els.push(text(192, 1174, 'PMMoV fraction', 15, { align: 'center', rotation: Math.PI / 2 }));

  return {
    animation: false,
    backgroundColor: '#ffffff',
    textStyle: { fontFamily: FONT },
    grid, xAxis, yAxis, series,
    graphic: [{ elements: els }],
  };
}

export default function App() {
  const ref = useRef<HTMLDivElement>(null);
  useEffect(() => {
    if (!ref.current) return;
    const chart = echarts.init(ref.current, null, { renderer: 'svg', width: 998, height: 1280 });
    chart.setOption(buildOption() as any);
    return () => chart.dispose();
  }, []);
  return <div ref={ref} style={{ position: 'absolute', left: 0, top: 0, width: 998, height: 1280, background: '#fff' }} />;
}
